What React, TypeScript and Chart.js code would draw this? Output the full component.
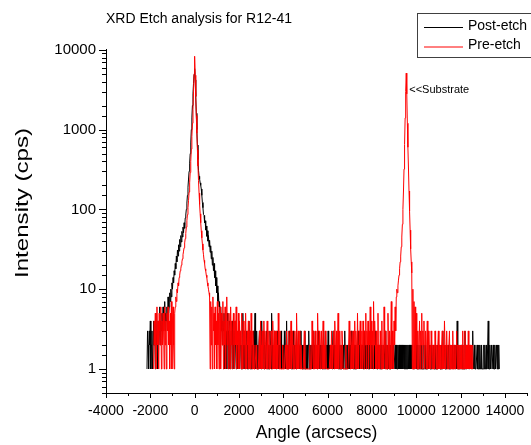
import React, { useEffect, useRef } from "react";
import { Chart, registerables } from "chart.js";

Chart.register(...registerables);

// ---- text ----
const chartTitle = "XRD Etch analysis for R12-41";
const xAxisTitle = "Angle (arcsecs)";
const yAxisTitle = "Intensity (cps)";
const seriesNames = ["Post-etch", "Pre-etch"];
const seriesColors = ["#000000", "#ff0000"];
const substrateNote = "<<Substrate";
const substrateAngle = 9550;
const substrateNoteLevel = 3100;

// ---- axes ----
const xMin = -4000;
const xMax = 15000;
const xTickStep = 1000;
const xLabelStep = 2000;
const xLastLabel = 14000;
const yMin = 0.5;
const yMax = 10000;

// ---- scan grid (arcsec) ----
const scanStep = 25;
const postEtchStart = -2150;
const preEtchStart = -1850;

// ---- counts (cps), one value per scan step; each row spans 1000 arcsec ----
const postEtchCounts = [
  1, 3, 2, 1, 3, 2, 4, 1, 2, 3, 1, 2, 4, 2, 3, 1, 5, 2, 3, 1, 4, 2, 3, 6, 2, 4, 3, 5, 2, 6, 3, 4, 7, 3, 5, 4, 6, 3, 8, 5,
  6, 9, 7, 10, 8, 12, 10, 14, 12, 17, 15, 21, 18, 26, 22, 31, 26, 36, 30, 42, 34, 47, 39, 53, 45, 60, 51, 68, 58, 78, 85, 100, 120, 150, 190, 240, 300, 380, 500, 680,
  1000, 1400, 2000, 2800, 3800, 4900, 5800, 4200, 2600, 1600, 1000, 640, 420, 310, 260, 240, 215, 200, 180, 150, 122, 105, 86, 84, 68, 72, 55, 62, 46, 54, 40, 47, 34, 41, 29, 35, 24, 30, 20, 25,
  17, 21, 14, 17, 11, 14, 9, 11, 7, 9, 6, 7, 4, 6, 3, 5, 2, 4, 3, 5, 1, 4, 2, 3, 1, 5, 2, 3, 1, 4, 2, 1, 3, 2, 4, 1, 3, 2, 1, 4,
  2, 1, 3, 2, 1, 2, 4, 1, 2, 3, 1, 2, 1, 5, 2, 1, 3, 2, 1, 2, 3, 1, 2, 1, 4, 2, 1, 3, 1, 2, 2, 1, 3, 1, 2, 5, 1, 2, 3, 1,
  2, 1, 2, 3, 1, 2, 1, 4, 2, 1, 2, 3, 1, 2, 1, 2, 3, 1, 2, 1, 2, 1, 3, 2, 1, 5, 2, 1, 2, 1, 3, 1, 2, 1, 2, 3, 1, 2, 1, 2,
  1, 2, 3, 1, 2, 1, 2, 1, 3, 2, 1, 2, 4, 1, 2, 1, 2, 3, 1, 2, 1, 2, 1, 2, 3, 1, 2, 1, 2, 1, 3, 2, 1, 2, 1, 2, 1, 3, 1, 2,
  1, 2, 1, 2, 1, 3, 1, 2, 1, 2, 1, 2, 3, 1, 2, 1, 2, 1, 2, 1, 3, 1, 2, 1, 2, 1, 2, 1, 2, 3, 1, 2, 1, 2, 1, 2, 1, 2, 1, 3,
  1, 2, 1, 2, 1, 2, 1, 3, 1, 2, 1, 2, 1, 2, 1, 2, 3, 1, 2, 1, 2, 1, 2, 1, 2, 1, 3, 1, 2, 1, 2, 1, 2, 1, 2, 1, 2, 3, 1, 2,
  1, 2, 1, 2, 1, 2, 1, 2, 1, 3, 1, 2, 1, 2, 1, 2, 1, 2, 1, 2, 1, 3, 1, 2, 1, 2, 1, 2, 1, 2, 1, 2, 3, 1, 2, 1, 2, 1, 2, 1,
  2, 1, 2, 1, 1, 2, 1, 2, 1, 1, 2, 1, 3, 1, 2, 1, 1, 2, 1, 2, 1, 1, 2, 1, 2, 1, 1, 2, 1, 1, 3, 1, 2, 1, 1, 2, 1, 2, 1, 1,
  2, 1, 1, 2, 1, 2, 1, 1, 2, 1, 2, 1, 1, 2, 1, 2, 1, 2, 1, 2, 1, 2, 1, 2, 1, 2, 1, 2, 1, 2, 1, 2, 1, 2, 1, 2, 1, 2, 1, 2,
  2, 1, 1, 1, 2, 1, 3, 1, 1, 2, 1, 1, 1, 2, 1, 1, 2, 1, 1, 1, 2, 1, 1, 2, 1, 1, 1, 2, 1, 1, 2, 1, 1, 1, 2, 1, 1, 2, 1, 1,
  1, 2, 1, 1, 1, 2, 1, 1, 2, 1, 1, 1, 2, 1, 3, 1, 1, 2, 1, 1, 1, 2, 1, 1, 2, 1, 1, 1, 2, 1, 1, 2, 1, 1, 1, 2, 1, 1, 2, 1,
  4, 1, 1, 2, 1, 1, 1, 2, 1, 1, 2, 1, 1, 1, 3, 1, 1, 2, 1, 1, 2, 1, 1, 1, 2, 1, 1, 2, 3, 1, 1, 2, 1, 1, 1, 1, 2, 1, 1, 2,
  1, 2, 1, 1, 2, 1, 1, 1, 2, 1, 2, 1, 1, 2, 1, 1, 4, 1, 1, 2, 1, 1, 2, 1, 1, 2, 1, 1, 2, 1, 1, 2, 1, 2, 1, 2, 1,
];

const preEtchCounts = [
  1, 4, 2, 5, 1, 3, 6, 2, 4, 1, 5, 3, 2, 6, 1, 4, 2, 5, 3, 1, 6, 2, 4, 1, 5, 3, 6, 2, 4, 1, 5, 2, 7, 1, 4, 6, 2, 1, 5, 6,
  8, 7, 10, 9, 12, 11, 14, 15, 17, 18, 20, 22, 24, 27, 30, 33, 38, 43, 50, 60, 72, 86, 105, 130, 165, 215, 290, 400, 570, 820, 1200, 1800, 3000, 5000, 8300, 4800, 2600, 1500, 900, 560,
  350, 230, 160, 115, 88, 68, 54, 44, 37, 31, 27, 23, 21, 18, 17, 15, 14, 12, 11, 10, 9, 8, 1, 7, 2, 6, 1, 8, 3, 5, 1, 6, 2, 4, 1, 7, 2, 5, 1, 4,
  6, 1, 3, 5, 2, 7, 1, 4, 2, 6, 1, 3, 8, 2, 4, 1, 5, 3, 1, 6, 2, 4, 1, 3, 5, 2, 1, 4, 2, 6, 1, 3, 2, 5, 1, 4, 2, 3, 1, 5,
  2, 1, 4, 2, 3, 1, 5, 2, 1, 3, 2, 4, 1, 2, 3, 1, 5, 2, 1, 3, 2, 1, 1, 1, 1, 2, 1, 1, 1, 1, 1, 3, 1, 4, 2, 1, 3, 1, 2, 4,
  1, 3, 2, 1, 2, 4, 1, 2, 3, 1, 2, 1, 3, 2, 1, 4, 2, 1, 3, 1, 2, 3, 1, 2, 1, 5, 2, 1, 3, 1, 1, 1, 1, 2, 1, 1, 1, 1, 2, 1,
  3, 1, 2, 1, 3, 2, 1, 2, 4, 1, 2, 3, 1, 2, 1, 3, 2, 1, 5, 2, 1, 3, 1, 2, 3, 1, 2, 1, 1, 1, 1, 1, 3, 1, 1, 1, 1, 1, 1, 1,
  1, 1, 2, 1, 1, 1, 4, 2, 1, 3, 1, 2, 3, 1, 2, 1, 5, 2, 1, 3, 2, 1, 2, 3, 1, 2, 4, 1, 2, 1, 3, 2, 1, 1, 1, 1, 1, 1, 1, 2,
  1, 3, 2, 1, 2, 3, 1, 4, 2, 1, 3, 1, 2, 5, 1, 2, 3, 1, 2, 1, 3, 2, 1, 1, 1, 1, 1, 2, 1, 1, 1, 1, 1, 4, 2, 1, 3, 2, 1, 2,
  3, 1, 2, 4, 1, 3, 2, 1, 5, 2, 1, 3, 2, 4, 1, 2, 3, 1, 4, 2, 1, 3, 2, 5, 1, 3, 2, 4, 1, 3, 2, 6, 1, 4, 2, 3, 1, 7, 2, 4,
  2, 1, 3, 1, 2, 5, 1, 2, 1, 3, 2, 1, 4, 1, 2, 1, 6, 2, 1, 3, 1, 2, 1, 5, 2, 1, 3, 1, 2, 7, 1, 3, 2, 1, 4, 2, 6, 3, 8, 10,
  9, 11, 13, 15, 18, 22, 26, 34, 45, 65, 100, 170, 320, 650, 1400, 3000, 5100, 2800, 1200, 600, 330, 170, 95, 55, 32, 22, 16, 1, 10, 1, 7, 1, 6, 1, 5, 2, 1, 3, 1, 2,
  4, 1, 3, 2, 5, 1, 3, 2, 4, 1, 2, 3, 1, 2, 4, 1, 3, 2, 1, 2, 1, 3, 2, 1, 2, 1, 2, 1, 3, 2, 1, 2, 1, 2, 3, 1, 2, 1, 2, 1,
  2, 3, 1, 2, 1, 4, 2, 1, 2, 3, 1, 2, 1, 2, 3, 1, 2, 1, 2, 1, 3, 1, 2, 1, 2, 1, 2, 3, 1, 2, 1, 2, 1, 2, 1, 2, 1, 1, 3, 1,
  2, 1, 3, 1, 2, 1, 2, 1, 3, 1, 2, 1, 2, 1, 2, 1, 2,
];

const FONT = "'Liberation Sans', Arial, sans-serif";

const isDecade = (v: number) => {
  if (v < 1) return false;
  const l = Math.log10(v);
  return Math.abs(l - Math.round(l)) < 1e-9;
};

const decorPlugin = {
  id: "decor",
  afterDraw(chart: any) {
    const { ctx, chartArea, scales } = chart;
    const xs = scales.x;
    const ys = scales.y;
    ctx.save();
    ctx.strokeStyle = "#000";
    ctx.lineWidth = 1;
    // y tick marks
    ys.ticks.forEach((t: any) => {
      const len = isDecade(t.value) ? 7 : 4;
      const y = Math.round(ys.getPixelForValue(t.value)) + 0.5;
      ctx.beginPath();
      ctx.moveTo(chartArea.left, y);
      ctx.lineTo(chartArea.left - len, y);
      ctx.stroke();
    });
    // x tick marks
    xs.ticks.forEach((t: any) => {
      const major = t.value % xLabelStep === 0 && t.value <= xLastLabel;
      const len = major ? 5 : 3;
      const x = Math.round(xs.getPixelForValue(t.value)) + 0.5;
      ctx.beginPath();
      ctx.moveTo(x, chartArea.bottom);
      ctx.lineTo(x, chartArea.bottom + len);
      ctx.stroke();
    });
    ctx.fillStyle = "#000";
    // y axis title (stretched along its length like the original)
    ctx.save();
    ctx.font = `18px ${FONT}`;
    ctx.textAlign = "center";
    ctx.textBaseline = "middle";
    const w = ctx.measureText(yAxisTitle).width;
    ctx.translate(23, 203);
    ctx.rotate(-Math.PI / 2);
    ctx.scale(150 / w, 1);
    ctx.fillText(yAxisTitle, 0, 0);
    ctx.restore();
    // substrate note
    ctx.font = `11px ${FONT}`;
    ctx.textBaseline = "middle";
    ctx.textAlign = "left";
    ctx.fillText(
      substrateNote,
      xs.getPixelForValue(substrateAngle) + 3,
      ys.getPixelForValue(substrateNoteLevel)
    );
    // legend
    ctx.strokeStyle = "#404040";
    ctx.strokeRect(417.5, 13.5, 130, 44);
    ctx.font = `14px ${FONT}`;
    const rows = [27.5, 47];
    seriesNames.forEach((name, i) => {
      ctx.strokeStyle = seriesColors[i];
      ctx.beginPath();
      ctx.moveTo(424, rows[i]);
      ctx.lineTo(463, rows[i]);
      ctx.stroke();
      ctx.fillStyle = "#000";
      ctx.fillText(name, 468, rows[i] - 1.5);
    });
    ctx.restore();
  },
};

export default function App() {
  const ref = useRef<HTMLCanvasElement | null>(null);
  useEffect(() => {
    document.body.style.margin = "0";
    const canvas = ref.current!;
    const post = postEtchCounts.map((c, i) => ({ x: postEtchStart + i * scanStep, y: c }));
    const pre = preEtchCounts.map((c, i) => ({ x: preEtchStart + i * scanStep, y: c }));
    const chart = new Chart(canvas, {
      type: "line",
      data: {
        datasets: [
          {
            label: seriesNames[0],
            data: post,
            borderColor: seriesColors[0],
            borderWidth: 1,
            pointRadius: 0,
            tension: 0,
            order: 2,
          },
          {
            label: seriesNames[1],
            data: pre,
            borderColor: seriesColors[1],
            borderWidth: 1,
            pointRadius: 0,
            tension: 0,
            order: 1,
          },
        ],
      },
      options: {
        animation: false,
        responsive: false,
        devicePixelRatio: 1,
        parsing: false,
        normalized: true,
        layout: { padding: { left: 0, right: 4, top: 0, bottom: 0 } },
        plugins: {
          legend: { display: false },
          tooltip: { enabled: false },
          title: {
            display: true,
            text: chartTitle,
            align: "start",
            fullSize: false,
            color: "#000",
            font: { family: FONT, size: 14, weight: "normal" },
            padding: { top: 11, bottom: 22 },
          },
        },
        scales: {
          x: {
            type: "linear",
            min: xMin,
            max: xMax,
            afterFit: (s: any) => {
              s.height = 52;
              s.paddingLeft = 0;
              s.paddingRight = 0;
            },
            grid: { display: false, drawTicks: false },
            border: { display: true, color: "#000", width: 1 },
            ticks: {
              stepSize: xTickStep,
              autoSkip: false,
              maxRotation: 0,
              padding: 10,
              color: "#000",
              font: { family: FONT, size: 14 },
              callback: (v: any) =>
                Number(v) % xLabelStep === 0 && Number(v) <= xLastLabel ? String(v) : "",
            },
            title: {
              display: true,
              text: xAxisTitle,
              color: "#000",
              font: { family: FONT, size: 17.5 },
              padding: { top: 0, bottom: 1.5 },
            },
          },
          y: {
            type: "logarithmic",
            min: yMin,
            max: yMax,
            afterFit: (s: any) => {
              s.width = 106;
            },
            grid: { display: false, drawTicks: false },
            border: { display: true, color: "#000", width: 1 },
            ticks: {
              autoSkip: false,
              padding: 10,
              color: "#000",
              font: { family: FONT, size: 15 },
              callback: (v: any) => (isDecade(Number(v)) ? String(Number(v)) : ""),
            },
          },
        },
      },
      plugins: [decorPlugin],
    });
    return () => chart.destroy();
  }, []);
  return (
    <canvas
      ref={ref}
      width={531}
      height={445}
      style={{ display: "block", width: 531, height: 445 }}
    />
  );
}
